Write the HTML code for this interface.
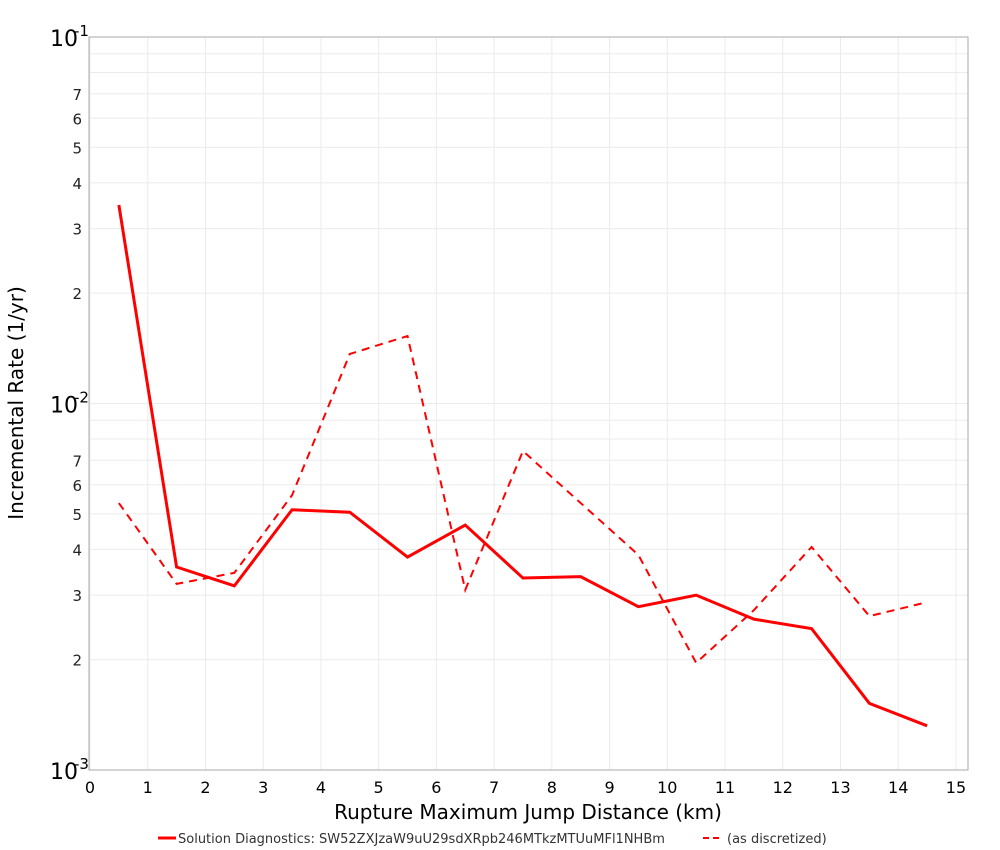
<!DOCTYPE html>
<html><head><meta charset="utf-8"><style>
body{margin:0;background:#fff;font-family:"DejaVu Sans","Liberation Sans",sans-serif;}
svg{display:block}
</style></head><body>
<svg id="chart" width="1000" height="850" xmlns="http://www.w3.org/2000/svg">
<g id="grid"></g>
<g id="axes"></g>
<g id="series"></g>
<text x="528" y="819" font-size="20" text-anchor="middle" fill="#000">Rupture Maximum Jump Distance (km)</text>
<text transform="translate(23,403) rotate(-90)" font-size="20" text-anchor="middle" fill="#000">Incremental Rate (1/yr)</text>
<g font-size="13" fill="#333">
<g><line x1="158" y1="838" x2="176" y2="838" stroke="#f00" stroke-width="3"/><text x="178" y="843">Solution Diagnostics: SW52ZXJzaW9uU29sdXRpb246MTkzMTUuMFl1NHBm</text></g>
<g><line x1="703" y1="838" x2="723" y2="838" stroke="#f00" stroke-width="2" stroke-dasharray="6,4"/><text x="727" y="843">(as discretized)</text></g>
</g>
</svg>
<script>
const xCats=[0.5,1.5,2.5,3.5,4.5,5.5,6.5,7.5,8.5,9.5,10.5,11.5,12.5,13.5,14.5];
const solidVals=[0.0348,0.00358,0.00318,0.00513,0.00505,0.00381,0.00466,0.00334,0.00337,0.00279,0.00300,0.00258,0.00243,0.00152,0.00132];
const dashedVals=[0.00535,0.00322,0.00345,0.00562,0.01365,0.01528,0.0031,0.00742,0.00535,0.00386,0.00196,0.00273,0.00406,0.00263,0.00287];
const xTicks=[0,1,2,3,4,5,6,7,8,9,10,11,12,13,14,15];
const yMinorLabels=[2,3,4,5,6,7];
const NS="http://www.w3.org/2000/svg";
const L=89,R=968,T=37,B=770;
const sx=v=>90+v*57.73;
const sy=v=>T+(Math.log10(0.1)-Math.log10(v))*(B-T)/2;
function mk(tag,attrs,parent){const e=document.createElementNS(NS,tag);for(const k in attrs)e.setAttribute(k,attrs[k]);parent.appendChild(e);return e;}
const grid=document.getElementById('grid'),axes=document.getElementById('axes'),series=document.getElementById('series');
xTicks.forEach(t=>{
 const g=mk('line',{x1:sx(t),x2:sx(t),y1:T,y2:B,stroke:'#ebebeb','stroke-width':1},grid);
 
 
 const tx=mk('text',{x:sx(t),y:793,'font-size':16,'text-anchor':'middle',fill:'#000'},axes);
 tx.textContent=t;
 
 
});
[0.01,0.1].forEach((d,di)=>{
 for(let m=1;m<=9;m++){
  const v=d*m/10*(m===1?10:1);
 }
});
[0.001,0.01].forEach(base=>{
 for(let m=2;m<=9;m++){
  const v=base*m;const y=sy(v);
  const g=mk('line',{x1:L,x2:R,y1:y,y2:y,stroke:'#ebebeb','stroke-width':1},grid);
  
  
  if(yMinorLabels.includes(m)){
   const tx=mk('text',{x:82,y:y+6,'font-size':15,'text-anchor':'end',fill:'#222'},axes);
   tx.textContent=m;
   
   
  }
 }
});
[[0.1,-1],[0.01,-2],[0.001,-3]].forEach(([v,e])=>{
 const y=sy(v);
 const g=mk('line',{x1:L,x2:R,y1:y,y2:y,stroke:'#ebebeb'},grid);
 
 
 const tx=mk('text',{x:50,y:y+9,'font-size':22,fill:'#000'},axes);
 tx.textContent='10';
 
 
 const sp=mk('text',{x:74,y:y-1,'font-size':15,fill:'#000'},axes);
 sp.textContent=String(e);
 
 
});
const fr=mk('rect',{x:L,y:T,width:R-L,height:B-T,fill:'none',stroke:'#aaa','stroke-width':1},axes);


const ps=mk('polyline',{points:xCats.map((x,i)=>sx(x)+','+sy(solidVals[i])).join(' '),fill:'none',stroke:'#f00','stroke-width':3},series);


const pd=mk('polyline',{points:xCats.map((x,i)=>sx(x)+','+sy(dashedVals[i])).join(' '),fill:'none',stroke:'#f00','stroke-width':2,'stroke-dasharray':'8,6'},series);


</script>
</body></html>
